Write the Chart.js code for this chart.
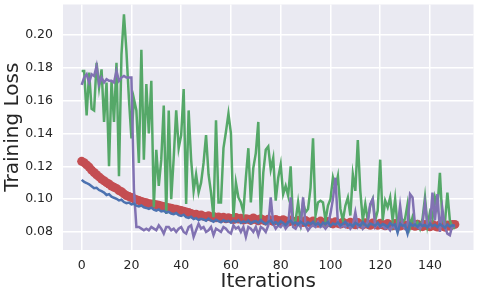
<!DOCTYPE html>
<html>
<head>
<meta charset="utf-8">
<script src="https://cdn.jsdelivr.net/npm/chart.js@4.4.1/dist/chart.umd.min.js"></script>
<style>
    html, body { margin: 0; padding: 0; background: #ffffff; }
    #lossChart { display: block; }
</style>
</head>
<body>
<canvas id="lossChart" width="478" height="294"></canvas>
<script>
const xTicks = [0, 20, 40, 60, 80, 100, 120, 140];
const yTicks = [0.08, 0.10, 0.12, 0.14, 0.16, 0.18, 0.20];

// loss per iteration (0..150)
const greenLoss = [
    .178, .178, .151, .177, .155, .154, .183, .168, .179, .147,
    .171, .120, .172, .147, .183, .114, .188, .2125, .190, .161,
    .137, .161, .154, .122, .191, .124, .170, .140, .172, .095,
    .130, .108, .124, .157, .091, .154, .100, .125, .154, .131,
    .139, .167, .097, .154, .124, .105, .115, .104, .110, .122,
    .139, .115, .104, .089, .148, .098, .098, .131, .141, .152,
    .140, .089, .110, .101, .098, .092, .113, .131, .098, .119,
    .128, .147, .088, .116, .130, .132, .118, .125, .099, .113,
    .121, .103, .108, .102, .120, .085, .087, .098, .086, .098,
    .092, .094, .107, .137, .090, .098, .099, .098, .087, .096,
    .100, .113, .107, .114, .094, .087, .096, .101, .090, .115,
    .105, .136, .105, .087, .097, .087, .096, .100, .087, .093,
    .124, .087, .099, .095, .101, .087, .100, .083, .089, .086,
    .088, .097, .083, .089, .084, .086, .082, .088, .101, .084,
    .092, .088, .101, .095, .116, .087, .085, .104, .087, .083,
    .082
];

const purpleLoss = [
    .1695, .174, .176, .171, .176, .175, .181, .170, .174, .171,
    .173, .172, .172, .171, .178, .172, .174, .175, .174, .174,
    .174, .106, .083, .083, .082, .081, .082, .081, .083, .082,
    .081, .084, .082, .079, .083, .083, .081, .082, .080, .082,
    .083, .080, .079, .083, .084, .077, .081, .085, .082, .083,
    .080, .081, .083, .078, .082, .081, .080, .083, .082, .080,
    .079, .084, .082, .083, .080, .083, .077, .083, .082, .080,
    .083, .078, .083, .082, .080, .084, .101, .085, .082, .084,
    .083, .085, .082, .084, .101, .083, .082, .085, .083, .101,
    .084, .081, .083, .084, .083, .086, .083, .084, .082, .084,
    .091, .100, .113, .085, .083, .084, .083, .085, .082, .084,
    .092, .083, .085, .082, .084, .086, .097, .100, .083, .085,
    .083, .084, .082, .083, .081, .084, .082, .083, .096, .084,
    .082, .085, .103, .101, .084, .083, .082, .085, .0975, .084,
    .083, .104, .087, .103, .080, .094, .083, .079, .078, .084,
    .083
];

const blueLoss = [
    .1117, .1105, .1098, .1090, .1078, .1066, .1069, .1055, .1048, .1040,
    .1025, .1030, .1015, .1008, .1002, .0992, .0996, .0982, .0975, .0979,
    .0968, .0972, .0960, .0955, .0961, .0950, .0946, .0940, .0948, .0936,
    .0930, .0937, .0925, .0929, .0918, .0922, .0912, .0908, .0915, .0902,
    .0898, .0905, .0890, .0885, .0893, .0878, .0884, .0872, .0880, .0876,
    .0868, .0881, .0870, .0862, .0874, .0866, .0859, .0871, .0863, .0868,
    .0857, .0869, .0860, .0872, .0855, .0864, .0858, .0870, .0852, .0862,
    .0866, .0854, .0872, .0858, .0848, .0862, .0869, .0851, .0860, .0846,
    .0865, .0855, .0842, .0860, .0868, .0850, .0857, .0845, .0863, .0852,
    .0840, .0858, .0849, .0862, .0843, .0854, .0838, .0857, .0848, .0861,
    .0836, .0852, .0845, .0858, .0840, .0850, .0862, .0839, .0848, .0834,
    .0855, .0846, .0837, .0860, .0843, .0832, .0851, .0844, .0838, .0856,
    .0835, .0848, .0841, .0830, .0853, .0840, .0846, .0795, .0850, .0837,
    .0843, .0790, .0852, .0838, .0845, .0831, .0849, .0836, .0842, .0828,
    .0851, .0835, .0844, .0830, .0847, .0837, .0826, .0845, .0833, .0841,
    .0838
];

const redLoss = [
    .1230, .1222, .1208, .1195, .1176, .1162, .1148, .1135, .1122, .1112,
    .1100, .1092, .1080, .1072, .1065, .1052, .1045, .1032, .1022, .1016,
    .1010, .1002, .0996, .0992, .0985, .0981, .0978, .0972, .0970, .0968,
    .0966, .0963, .0958, .0955, .0950, .0948, .0944, .0940, .0938, .0933,
    .0930, .0926, .0921, .0918, .0912, .0905, .0908, .0900, .0903, .0896,
    .0892, .0898, .0890, .0894, .0886, .0891, .0883, .0889, .0880, .0887,
    .0882, .0876, .0888, .0879, .0884, .0872, .0881, .0877, .0870, .0885,
    .0875, .0868, .0880, .0873, .0866, .0878, .0870, .0864, .0876, .0869,
    .0862, .0874, .0867, .0860, .0872, .0865, .0858, .0871, .0863, .0857,
    .0869, .0861, .0855, .0867, .0859, .0853, .0866, .0856, .0851, .0864,
    .0855, .0849, .0862, .0853, .0848, .0860, .0852, .0846, .0859, .0850,
    .0844, .0857, .0849, .0843, .0856, .0847, .0841, .0855, .0846, .0840,
    .0853, .0844, .0838, .0852, .0843, .0837, .0851, .0842, .0836, .0849,
    .0841, .0835, .0848, .0839, .0834, .0847, .0838, .0832, .0846, .0837,
    .0831, .0845, .0836, .0830, .0844, .0835, .0829, .0843, .0834, .0846,
    .0846
];

function toPoints(values) {
    return values.map((v, i) => ({ x: i, y: v }));
}

const plotBackground = {
    id: 'plotBackground',
    beforeDraw(chart) {
        const { ctx, chartArea } = chart;
        ctx.save();
        ctx.fillStyle = '#EAEAF2';
        ctx.fillRect(chartArea.left, chartArea.top, chartArea.width, chartArea.height);
        ctx.restore();
    }
};

const tickFont = { family: 'DejaVu Sans', size: 12.5 };
const titleFont = { family: 'DejaVu Sans', size: 20 };

// first dataset is drawn on top
new Chart(document.getElementById('lossChart'), {
    type: 'line',
    data: {
        datasets: [
            { data: toPoints(blueLoss), borderColor: '#4C72B0', borderWidth: 2.5, pointRadius: 0 },
            { data: toPoints(purpleLoss), borderColor: '#8172B2', borderWidth: 2.5, pointRadius: 0 },
            { data: toPoints(greenLoss), borderColor: '#55A868', borderWidth: 2.5, pointRadius: 0 },
            {
                data: toPoints(redLoss), borderColor: '#C44E52', borderWidth: 2.5,
                pointRadius: 4.5, pointBackgroundColor: '#C44E52', pointBorderWidth: 0
            }
        ]
    },
    options: {
        responsive: false,
        animation: false,
        devicePixelRatio: 1,
        layout: { padding: { top: 2, right: 2, left: 0, bottom: 0 } },
        plugins: { legend: { display: false }, tooltip: { enabled: false } },
        elements: { line: { tension: 0 } },
        scales: {
            x: {
                type: 'linear',
                min: -7.5,
                max: 157.5,
                afterBuildTicks: scale => { scale.ticks = xTicks.map(v => ({ value: v })); },
                afterFit: scale => {
                    scale.height = 44;
                    scale.paddingLeft = 0;
                    scale.paddingRight = 0;
                },
                border: { display: false },
                grid: { color: '#ffffff', lineWidth: 1.5, drawTicks: false },
                ticks: { font: tickFont, color: '#262626', padding: 8, maxRotation: 0 },
                title: { display: true, text: 'Iterations', font: titleFont, color: '#262626', padding: { top: 0, bottom: 0 } }
            },
            y: {
                min: 0.069,
                max: 0.2185,
                afterBuildTicks: scale => { scale.ticks = yTicks.map(v => ({ value: v })); },
                afterFit: scale => {
                    scale.width = 63;
                    scale.paddingTop = 0;
                    scale.paddingBottom = 0;
                },
                border: { display: false },
                grid: { color: '#ffffff', lineWidth: 1.5, drawTicks: false },
                ticks: { font: tickFont, color: '#262626', padding: 10, callback: v => v.toFixed(2) },
                title: { display: true, text: 'Training Loss', font: titleFont, color: '#262626', padding: { top: 1, bottom: 0 } }
            }
        }
    },
    plugins: [plotBackground]
});
</script>
</body>
</html>
